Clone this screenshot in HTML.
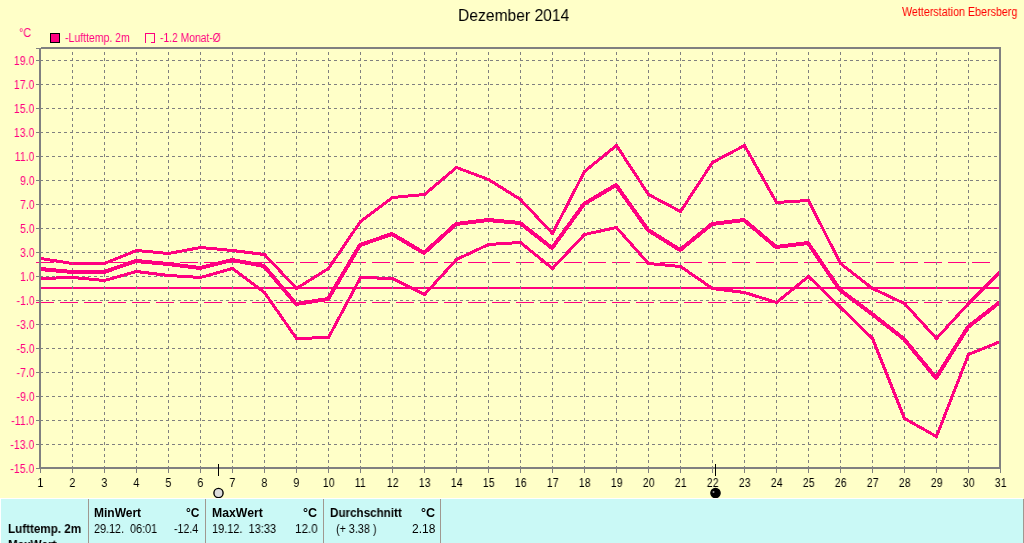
<!DOCTYPE html>
<html><head><meta charset="utf-8">
<style>
html,body{margin:0;padding:0;}
body{width:1024px;height:543px;position:relative;overflow:hidden;background:#FFFFC8;font-family:"Liberation Sans",sans-serif;-webkit-font-smoothing:antialiased;}
.t{position:absolute;white-space:nowrap;line-height:1;transform-origin:0 0;will-change:transform;}
.yl{position:absolute;left:0;width:34.5px;text-align:right;font-size:12px;line-height:12px;color:#FF0080;}
.yl span{display:inline-block;will-change:transform;transform:scaleX(0.88);transform-origin:100% 0;}
.xl{position:absolute;top:477px;width:41px;text-align:center;font-size:12px;line-height:12px;color:#000;}
.xl span{display:inline-block;will-change:transform;transform:scaleX(0.88);transform-origin:50% 0;}
#panel{position:absolute;left:0;top:498px;width:1023px;height:45px;background:#CAF9F6;border-top:1px solid #fff;border-left:1px solid #fff;box-sizing:border-box;}
#rb{position:absolute;left:1023px;top:499px;width:1px;height:44px;background:#A09890;}
.sep{position:absolute;top:499px;width:1px;height:44px;background:#A09890;}
</style></head><body>
<svg width="1024" height="498" viewBox="0 0 1024 498" style="position:absolute;left:0;top:0">
<g shape-rendering="crispEdges">
<rect x="41" y="287" width="958" height="2" fill="#FF0080"/>
<path d="M36 262.5H990M36 302.5H990" stroke="#FF0080" stroke-width="1" stroke-dasharray="18 6" fill="none"/>
<path d="M40 60.5H999 M40 84.5H999 M40 108.5H999 M40 132.5H999 M40 156.5H999 M40 180.5H999 M40 204.5H999 M40 228.5H999 M40 252.5H999 M40 276.5H999 M40 300.5H999 M40 324.5H999 M40 348.5H999 M40 372.5H999 M40 396.5H999 M40 420.5H999 M40 444.5H999" stroke="#808080" stroke-width="1" stroke-dasharray="3 3" fill="none"/>
<path d="M72.5 49V467 M104.5 49V467 M136.5 49V467 M168.5 49V467 M200.5 49V467 M232.5 49V467 M264.5 49V467 M296.5 49V467 M328.5 49V467 M360.5 49V467 M392.5 49V467 M424.5 49V467 M456.5 49V467 M488.5 49V467 M520.5 49V467 M552.5 49V467 M584.5 49V467 M616.5 49V467 M648.5 49V467 M680.5 49V467 M712.5 49V467 M744.5 49V467 M776.5 49V467 M808.5 49V467 M840.5 49V467 M872.5 49V467 M904.5 49V467 M936.5 49V467 M968.5 49V467" stroke="#808080" stroke-width="1" stroke-dasharray="3 3" stroke-dashoffset="3" fill="none"/>
<path d="M36 48.5H39 M36 60.5H39 M36 84.5H39 M36 108.5H39 M36 132.5H39 M36 156.5H39 M36 180.5H39 M36 204.5H39 M36 228.5H39 M36 252.5H39 M36 276.5H39 M36 300.5H39 M36 324.5H39 M36 348.5H39 M36 372.5H39 M36 396.5H39 M36 420.5H39 M36 444.5H39 M36 468.5H39 M40.5 469V473 M72.5 469V473 M104.5 469V473 M136.5 469V473 M168.5 469V473 M200.5 469V473 M232.5 469V473 M264.5 469V473 M296.5 469V473 M328.5 469V473 M360.5 469V473 M392.5 469V473 M424.5 469V473 M456.5 469V473 M488.5 469V473 M520.5 469V473 M552.5 469V473 M584.5 469V473 M616.5 469V473 M648.5 469V473 M680.5 469V473 M712.5 469V473 M744.5 469V473 M776.5 469V473 M808.5 469V473 M840.5 469V473 M872.5 469V473 M904.5 469V473 M936.5 469V473 M968.5 469V473 M1000.5 469V473" stroke="#808080" stroke-width="1" fill="none"/>
<rect x="39" y="48" width="2" height="421" fill="#808080"/>
<rect x="39" y="467" width="962" height="2" fill="#808080"/>
<rect x="41" y="47" width="960" height="2" fill="#808080"/>
<rect x="999" y="47" width="2" height="422" fill="#808080"/>
</g>
<defs><clipPath id="cp"><rect x="41" y="49" width="958" height="418"/></clipPath></defs><g clip-path="url(#cp)">
<polyline points="40.5,258.5 72.5,263.5 104.5,263.5 136.5,250.5 168.5,253.5 200.5,247.5 232.5,250.5 264.5,254.5 296.5,288.5 328.5,268.5 360.5,221.5 392.5,197.5 424.5,194.5 456.5,167.5 488.5,179.5 520.5,199.5 552.5,233.5 584.5,171.5 616.5,145.5 648.5,194.5 680.5,211.5 712.5,162.5 744.5,145.5 776.5,202.5 808.5,200.5 840.5,263.5 872.5,288.5 904.5,303.5 936.5,338.5 968.5,303.5 1000.5,271.5" fill="none" stroke="#FF0080" stroke-width="3" stroke-linejoin="round" stroke-linecap="round" shape-rendering="crispEdges"/>
<polyline points="40,269 72,272 104,272 136,261 168,264 200,268 232,260 264,266 296,304 328,299 360,245 392,234 424,253 456,224 488,220 520,223 552,248 584,204 616,185 648,230 680,250 712,224 744,220 776,247 808,243 840,290 872,314 904,339 936,378 968,327 1000,302" fill="none" stroke="#FF0080" stroke-width="4" stroke-linejoin="round" stroke-linecap="round" shape-rendering="crispEdges"/>
<polyline points="40.5,278.5 72.5,277.5 104.5,280.5 136.5,271.5 168.5,275.5 200.5,277.5 232.5,268.5 264.5,292.5 296.5,338.5 328.5,337.5 360.5,277.5 392.5,278.5 424.5,294.5 456.5,259.5 488.5,244.5 520.5,242.5 552.5,268.5 584.5,234.5 616.5,227.5 648.5,263.5 680.5,266.5 712.5,288.5 744.5,292.5 776.5,302.5 808.5,276.5 840.5,307.5 872.5,338.5 904.5,418.5 936.5,436.5 968.5,354.5 1000.5,341.5" fill="none" stroke="#FF0080" stroke-width="3" stroke-linejoin="round" stroke-linecap="round" shape-rendering="crispEdges"/>
</g>
<g shape-rendering="crispEdges"><rect x="218" y="464" width="1" height="12" fill="#000"/><rect x="715" y="464" width="1" height="12" fill="#000"/></g>
<circle cx="218.5" cy="493" r="4.6" fill="#DCDCDC" stroke="#000" stroke-width="1.4"/>
<circle cx="715.5" cy="493" r="4.6" fill="#000" stroke="#000" stroke-width="1.4"/>
<circle cx="713.5" cy="492" r="1" fill="#fff" opacity="0.6"/>
</svg>
<div style="position:absolute;left:50px;top:33px;width:8px;height:8px;border:1px solid #000;background:#FF0080;"></div>
<svg width="12" height="12" style="position:absolute;left:144px;top:32px" shape-rendering="crispEdges"><path d="M1.5 11V1.5H10.5V10.5H7" stroke="#FF0080" stroke-width="1" fill="none"/></svg>
<div class="yl" style="top:55px"><span>19.0</span></div><div class="yl" style="top:79px"><span>17.0</span></div><div class="yl" style="top:103px"><span>15.0</span></div><div class="yl" style="top:127px"><span>13.0</span></div><div class="yl" style="top:151px"><span>11.0</span></div><div class="yl" style="top:175px"><span>9.0</span></div><div class="yl" style="top:199px"><span>7.0</span></div><div class="yl" style="top:223px"><span>5.0</span></div><div class="yl" style="top:247px"><span>3.0</span></div><div class="yl" style="top:271px"><span>1.0</span></div><div class="yl" style="top:295px"><span>-1.0</span></div><div class="yl" style="top:319px"><span>-3.0</span></div><div class="yl" style="top:343px"><span>-5.0</span></div><div class="yl" style="top:367px"><span>-7.0</span></div><div class="yl" style="top:391px"><span>-9.0</span></div><div class="yl" style="top:415px"><span>-11.0</span></div><div class="yl" style="top:439px"><span>-13.0</span></div><div class="yl" style="top:463px"><span>-15.0</span></div>
<div class="xl" style="left:20px"><span>1</span></div><div class="xl" style="left:52px"><span>2</span></div><div class="xl" style="left:84px"><span>3</span></div><div class="xl" style="left:116px"><span>4</span></div><div class="xl" style="left:148px"><span>5</span></div><div class="xl" style="left:180px"><span>6</span></div><div class="xl" style="left:212px"><span>7</span></div><div class="xl" style="left:244px"><span>8</span></div><div class="xl" style="left:276px"><span>9</span></div><div class="xl" style="left:308px"><span>10</span></div><div class="xl" style="left:340px"><span>11</span></div><div class="xl" style="left:372px"><span>12</span></div><div class="xl" style="left:404px"><span>13</span></div><div class="xl" style="left:436px"><span>14</span></div><div class="xl" style="left:468px"><span>15</span></div><div class="xl" style="left:500px"><span>16</span></div><div class="xl" style="left:532px"><span>17</span></div><div class="xl" style="left:564px"><span>18</span></div><div class="xl" style="left:596px"><span>19</span></div><div class="xl" style="left:628px"><span>20</span></div><div class="xl" style="left:660px"><span>21</span></div><div class="xl" style="left:692px"><span>22</span></div><div class="xl" style="left:724px"><span>23</span></div><div class="xl" style="left:756px"><span>24</span></div><div class="xl" style="left:788px"><span>25</span></div><div class="xl" style="left:820px"><span>26</span></div><div class="xl" style="left:852px"><span>27</span></div><div class="xl" style="left:884px"><span>28</span></div><div class="xl" style="left:916px"><span>29</span></div><div class="xl" style="left:948px"><span>30</span></div><div class="xl" style="left:980px"><span>31</span></div>
<div id="panel"></div><div id="rb"></div>
<div class="sep" style="left:88px"></div>
<div class="sep" style="left:205px"></div>
<div class="sep" style="left:323px"></div>
<div class="sep" style="left:440px"></div>
<div class="t" style="left:458px;top:7px;font-size:17px;color:#000;transform:scaleX(0.92);">Dezember 2014</div><div class="t" style="left:902px;top:6px;font-size:12px;color:#FF0000;transform:scaleX(0.893);">Wetterstation Ebersberg</div><div class="t" style="left:19px;top:27px;font-size:12px;color:#FF0080;transform:scaleX(0.9);">°C</div><div class="t" style="left:65px;top:32px;font-size:12px;color:#FF0080;transform:scaleX(0.875);">-Lufttemp. 2m</div><div class="t" style="left:160px;top:32px;font-size:12px;color:#FF0080;transform:scaleX(0.86);">-1.2 Monat-Ø</div><div class="t" style="left:8px;top:523px;font-size:12px;color:#000;font-weight:bold;transform:scaleX(0.97);">Lufttemp. 2m</div><div class="t" style="left:8px;top:539px;font-size:12px;color:#000;font-weight:bold;transform:scaleX(0.97);">MaxWert</div><div class="t" style="left:94px;top:507px;font-size:12px;color:#000;font-weight:bold;">MinWert</div><div class="t" style="left:186px;top:507px;font-size:12px;color:#000;font-weight:bold;">°C</div><div class="t" style="left:94px;top:523px;font-size:12px;color:#000;transform:scaleX(0.9);">29.12.&nbsp; 06:01</div><div class="t" style="left:174px;top:523px;font-size:12px;color:#000;transform:scaleX(0.88);">-12.4</div><div class="t" style="left:212px;top:507px;font-size:12px;color:#000;font-weight:bold;transform:scaleX(1.02);">MaxWert</div><div class="t" style="left:303px;top:507px;font-size:12px;color:#000;font-weight:bold;transform:scaleX(1.05);">°C</div><div class="t" style="left:212px;top:523px;font-size:12px;color:#000;transform:scaleX(0.914);">19.12.&nbsp; 13:33</div><div class="t" style="left:295px;top:523px;font-size:12px;color:#000;transform:scaleX(0.97);">12.0</div><div class="t" style="left:330px;top:507px;font-size:12px;color:#000;font-weight:bold;transform:scaleX(0.97);">Durchschnitt</div><div class="t" style="left:421px;top:507px;font-size:12px;color:#000;font-weight:bold;transform:scaleX(1.05);">°C</div><div class="t" style="left:336px;top:523px;font-size:12px;color:#000;transform:scaleX(0.9);">(+ 3.38 )</div><div class="t" style="left:412px;top:523px;font-size:12px;color:#000;">2.18</div>
</body></html>
